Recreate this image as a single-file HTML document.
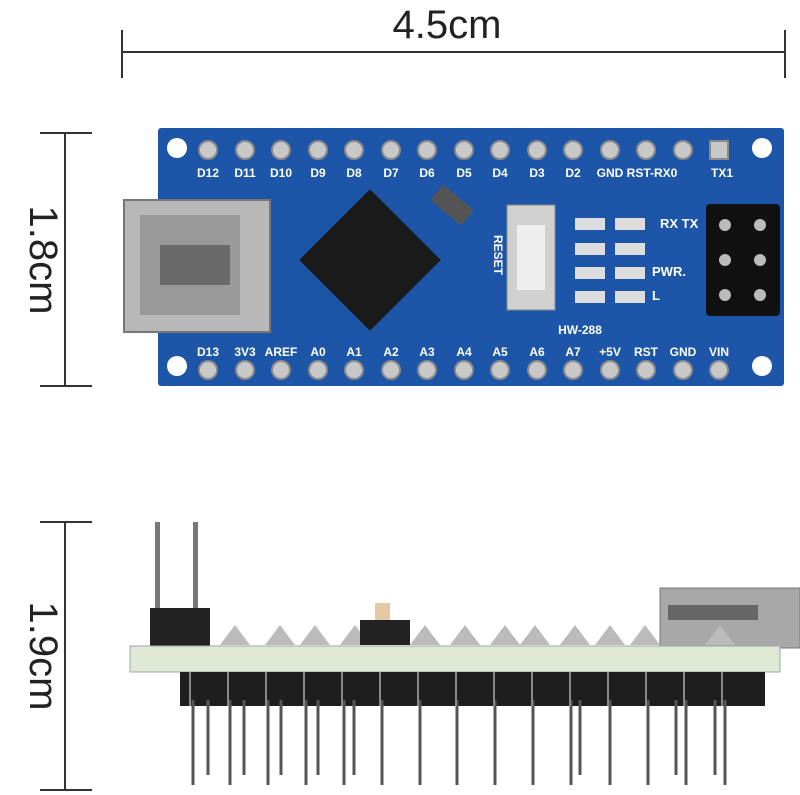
<!DOCTYPE html>
<html><head><style>
html,body{margin:0;padding:0;background:#fff;}
svg{display:block;}
text{font-family:"Liberation Sans",sans-serif;}
</style></head><body>
<svg width="800" height="795" viewBox="0 0 800 795" xmlns="http://www.w3.org/2000/svg">
<!-- dimension lines -->
<g stroke="#333" stroke-width="2">
<line x1="122" y1="52" x2="785" y2="52"/>
<line x1="122" y1="30" x2="122" y2="78"/>
<line x1="785" y1="30" x2="785" y2="78"/>
<line x1="65" y1="133" x2="65" y2="386"/>
<line x1="40" y1="133" x2="92" y2="133"/>
<line x1="40" y1="386" x2="92" y2="386"/>
<line x1="65" y1="522" x2="65" y2="790"/>
<line x1="40" y1="522" x2="92" y2="522"/>
<line x1="40" y1="790" x2="92" y2="790"/>
</g>
<text x="447" y="38" font-size="40" text-anchor="middle" fill="#222">4.5cm</text>
<text transform="translate(30,260) rotate(90)" font-size="40" text-anchor="middle" fill="#222">1.8cm</text>
<text transform="translate(30,656) rotate(90)" font-size="40" text-anchor="middle" fill="#222">1.9cm</text>

<!-- board -->
<rect x="158" y="128" width="626" height="258" fill="#1d56a8" rx="3"/>
<circle cx="177" cy="148" r="10" fill="#fff"/>
<circle cx="762" cy="148" r="10" fill="#fff"/>
<circle cx="177" cy="366" r="10" fill="#fff"/>
<circle cx="762" cy="366" r="10" fill="#fff"/>
<g fill="#c8c8c8" stroke="#8a8a8a" stroke-width="2">
<circle cx="208" cy="150" r="9"/><circle cx="245" cy="150" r="9"/><circle cx="281" cy="150" r="9"/><circle cx="318" cy="150" r="9"/><circle cx="354" cy="150" r="9"/><circle cx="391" cy="150" r="9"/><circle cx="427" cy="150" r="9"/><circle cx="464" cy="150" r="9"/><circle cx="500" cy="150" r="9"/><circle cx="537" cy="150" r="9"/><circle cx="573" cy="150" r="9"/><circle cx="610" cy="150" r="9"/><circle cx="646" cy="150" r="9"/><circle cx="683" cy="150" r="9"/><rect x="710" y="141" width="18" height="18"/>
<circle cx="208" cy="370" r="9"/><circle cx="245" cy="370" r="9"/><circle cx="281" cy="370" r="9"/><circle cx="318" cy="370" r="9"/><circle cx="354" cy="370" r="9"/><circle cx="391" cy="370" r="9"/><circle cx="427" cy="370" r="9"/><circle cx="464" cy="370" r="9"/><circle cx="500" cy="370" r="9"/><circle cx="537" cy="370" r="9"/><circle cx="573" cy="370" r="9"/><circle cx="610" cy="370" r="9"/><circle cx="646" cy="370" r="9"/><circle cx="683" cy="370" r="9"/><circle cx="719" cy="370" r="9"/>
</g>
<g fill="#fff" font-size="12" font-weight="bold" text-anchor="middle">
<text x="208" y="177">D12</text><text x="245" y="177">D11</text><text x="281" y="177">D10</text><text x="318" y="177">D9</text><text x="354" y="177">D8</text><text x="391" y="177">D7</text><text x="427" y="177">D6</text><text x="464" y="177">D5</text><text x="500" y="177">D4</text><text x="537" y="177">D3</text><text x="573" y="177">D2</text><text x="610" y="177">GND</text><text x="652" y="177">RST-RX0</text><text x="722" y="177">TX1</text>
<text x="208" y="356">D13</text><text x="245" y="356">3V3</text><text x="281" y="356">AREF</text><text x="318" y="356">A0</text><text x="354" y="356">A1</text><text x="391" y="356">A2</text><text x="427" y="356">A3</text><text x="464" y="356">A4</text><text x="500" y="356">A5</text><text x="537" y="356">A6</text><text x="573" y="356">A7</text><text x="610" y="356">+5V</text><text x="646" y="356">RST</text><text x="683" y="356">GND</text><text x="719" y="356">VIN</text>
<text x="660" y="228" text-anchor="start" font-size="13">RX TX</text>
<text x="652" y="276" text-anchor="start" font-size="13">PWR.</text>
<text x="652" y="300" text-anchor="start" font-size="13">L</text>
<text x="580" y="334" font-size="12">HW-288</text>
<text transform="translate(494,255) rotate(90)" font-size="12">RESET</text>
</g>
<!-- usb -->
<rect x="124" y="200" width="146" height="132" fill="#b8b8b8" stroke="#777" stroke-width="2"/>
<rect x="140" y="215" width="100" height="100" fill="#9a9a9a"/>
<rect x="160" y="245" width="70" height="40" fill="#6a6a6a"/>
<!-- chip -->
<rect x="320" y="210" width="100" height="100" fill="#1a1a1a" transform="rotate(45 370 260)"/>
<rect x="432" y="195" width="40" height="20" fill="#555" transform="rotate(40 452 205)"/>
<!-- reset -->
<rect x="507" y="205" width="48" height="105" fill="#d0d0d0" stroke="#888"/>
<rect x="517" y="225" width="28" height="65" fill="#eee"/>
<!-- leds -->
<g fill="#ddd"><rect x="575" y="218" width="30" height="12"/><rect x="575" y="243" width="30" height="12"/><rect x="575" y="267" width="30" height="12"/><rect x="575" y="291" width="30" height="12"/>
<rect x="615" y="218" width="30" height="12"/><rect x="615" y="243" width="30" height="12"/><rect x="615" y="267" width="30" height="12"/><rect x="615" y="291" width="30" height="12"/></g>
<!-- header -->
<rect x="706" y="204" width="74" height="112" fill="#111" rx="4"/>
<g fill="#bbb"><circle cx="725" cy="225" r="6"/><circle cx="760" cy="225" r="6"/><circle cx="725" cy="260" r="6"/><circle cx="760" cy="260" r="6"/><circle cx="725" cy="295" r="6"/><circle cx="760" cy="295" r="6"/></g>

<!-- side view -->
<rect x="155" y="522" width="5" height="110" fill="#777"/>
<rect x="193" y="522" width="5" height="110" fill="#777"/>
<rect x="150" y="608" width="60" height="40" fill="#222"/>
<rect x="660" y="588" width="140" height="60" fill="#a8a8a8" stroke="#777"/>
<rect x="668" y="605" width="90" height="15" fill="#666"/>
<g fill="#bbb">
<polygon points="220,645 235,625 250,645"/><polygon points="265,645 280,625 295,645"/><polygon points="300,645 315,625 330,645"/><polygon points="340,645 355,625 370,645"/><polygon points="410,645 425,625 440,645"/><polygon points="450,645 465,625 480,645"/><polygon points="490,645 505,625 520,645"/><polygon points="520,645 535,625 550,645"/><polygon points="560,645 575,625 590,645"/><polygon points="595,645 610,625 625,645"/><polygon points="630,645 645,625 660,645"/><polygon points="705,645 720,625 735,645"/>
</g>
<rect x="360" y="620" width="50" height="25" fill="#222"/>
<rect x="375" y="603" width="15" height="17" fill="#e5c9a0"/>
<rect x="130" y="646" width="650" height="26" fill="#dfe8d3" stroke="#9aa" stroke-width="1"/>
<rect x="180" y="672" width="585" height="34" fill="#1e1e1e"/>
<g stroke="#555" stroke-width="3">
<line x1="193" y1="700" x2="193" y2="785"/><line x1="208" y1="700" x2="208" y2="775"/><line x1="230" y1="700" x2="230" y2="785"/><line x1="244" y1="700" x2="244" y2="775"/><line x1="268" y1="700" x2="268" y2="785"/><line x1="281" y1="700" x2="281" y2="775"/><line x1="306" y1="700" x2="306" y2="785"/><line x1="318" y1="700" x2="318" y2="775"/><line x1="344" y1="700" x2="344" y2="785"/><line x1="354" y1="700" x2="354" y2="775"/><line x1="382" y1="700" x2="382" y2="785"/><line x1="420" y1="700" x2="420" y2="785"/><line x1="457" y1="700" x2="457" y2="785"/><line x1="495" y1="700" x2="495" y2="785"/><line x1="533" y1="700" x2="533" y2="785"/><line x1="571" y1="700" x2="571" y2="785"/><line x1="580" y1="700" x2="580" y2="775"/><line x1="610" y1="700" x2="610" y2="785"/><line x1="648" y1="700" x2="648" y2="785"/><line x1="686" y1="700" x2="686" y2="785"/><line x1="676" y1="700" x2="676" y2="775"/><line x1="715" y1="700" x2="715" y2="775"/><line x1="725" y1="700" x2="725" y2="785"/>
</g>
<g stroke="#888" stroke-width="2">
<line x1="190" y1="672" x2="190" y2="706"/><line x1="228" y1="672" x2="228" y2="706"/><line x1="266" y1="672" x2="266" y2="706"/><line x1="304" y1="672" x2="304" y2="706"/><line x1="342" y1="672" x2="342" y2="706"/><line x1="380" y1="672" x2="380" y2="706"/><line x1="418" y1="672" x2="418" y2="706"/><line x1="456" y1="672" x2="456" y2="706"/><line x1="494" y1="672" x2="494" y2="706"/><line x1="532" y1="672" x2="532" y2="706"/><line x1="570" y1="672" x2="570" y2="706"/><line x1="608" y1="672" x2="608" y2="706"/><line x1="646" y1="672" x2="646" y2="706"/><line x1="684" y1="672" x2="684" y2="706"/><line x1="722" y1="672" x2="722" y2="706"/>
</g>
</svg>
</body></html>
